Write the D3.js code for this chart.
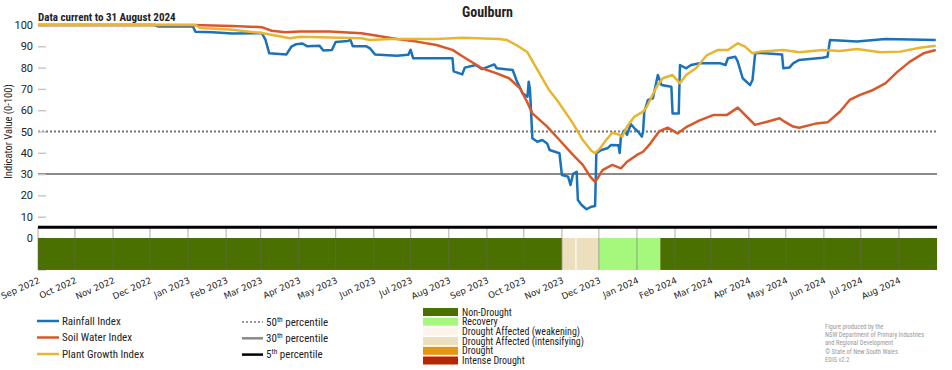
<!DOCTYPE html>
<html>
<head>
<meta charset="utf-8">
<script src="https://cdn.jsdelivr.net/npm/d3@7"></script>
<style>
  body { margin: 0; background: #fff; }
  svg { display: block; }
  text { font-family: "Liberation Sans Narrow", "Roboto Condensed", Roboto, sans-serif; fill: #222; }
</style>
</head>
<body>
<svg id="chart" width="952" height="370"></svg>
<script>
var title = "Goulburn";
var subtitle = "Data current to 31 August 2024";

var rainfallIndex = [
  ["2022-09-01",100],["2022-12-05",100],["2022-12-08",99.3],["2023-01-05",99.3],["2023-01-07",96.8],
  ["2023-01-21",96.6],["2023-02-06",96],["2023-03-02",96.2],["2023-03-05",93],["2023-03-08",86.7],
  ["2023-03-22",86.2],["2023-03-26",89.8],["2023-03-30",91],["2023-04-04",91.3],["2023-04-08",90],
  ["2023-04-18",90.2],["2023-04-21",88],["2023-04-28",88.3],["2023-05-01",92],["2023-05-11",92.5],
  ["2023-05-13",93],["2023-05-15",90],["2023-05-26",90],["2023-05-29",89],["2023-06-02",86.2],
  ["2023-06-20",85.6],["2023-06-29",86],["2023-07-01",88.3],["2023-07-03",84.4],["2023-08-04",84.4],
  ["2023-08-05",78.2],["2023-08-12",76.8],["2023-08-14",80],["2023-08-23",81.2],["2023-08-28",79.3],
  ["2023-09-07",81.5],["2023-09-09",79.7],["2023-09-22",78.9],["2023-09-25",74.2],["2023-09-30",67.9],
  ["2023-10-04",66.3],["2023-10-05",73.4],["2023-10-06",70],["2023-10-08",46.8],["2023-10-12",45.2],
  ["2023-10-16",46],["2023-10-20",44.4],["2023-10-22",41.3],["2023-10-30",39.8],["2023-11-01",29.6],
  ["2023-11-06",28.8],["2023-11-08",24.9],["2023-11-10",30],["2023-11-13",31.1],["2023-11-14",17.8],
  ["2023-11-17",15.5],["2023-11-21",13.5],["2023-11-25",14.7],["2023-11-28",15],["2023-11-29",39.8],
  ["2023-12-03",41.3],["2023-12-08",42.1],["2023-12-11",43.7],["2023-12-17",43.5],["2023-12-18",39.9],
  ["2023-12-19",47.6],["2023-12-22",50.7],["2023-12-24",48.4],["2023-12-27",53.5],["2023-12-30",51.5],
  ["2024-01-02",49.9],["2024-01-05",47.6],["2024-01-06",50],["2024-01-07",59.3],["2024-01-10",64.8],
  ["2024-01-14",65.6],["2024-01-18",76.5],["2024-01-21",71.8],["2024-01-29",71],["2024-01-30",58.5],
  ["2024-02-04",58.5],["2024-02-05",81.2],["2024-02-10",79.7],["2024-02-14",81.2],["2024-02-21",82],
  ["2024-03-09",82],["2024-03-13",81.2],["2024-03-15",84.4],["2024-03-21",85.1],["2024-03-23",82.8],
  ["2024-03-27",75],["2024-04-02",71.8],["2024-04-04",74.2],["2024-04-06",85.9],["2024-04-07",87],
  ["2024-04-14",86.7],["2024-04-28",86.2],["2024-04-29",79.7],["2024-05-04",80],["2024-05-07",82],
  ["2024-05-12",83.6],["2024-05-31",84.6],["2024-06-04",85.1],["2024-06-06",93],["2024-06-28",92.2],
  ["2024-07-21",93.4],["2024-08-31",93]
];

var soilWaterIndex = [
  ["2022-09-01",100],["2023-01-05",100],["2023-02-06",99.5],["2023-03-02",99],["2023-03-10",97.3],
  ["2023-03-21",96.6],["2023-04-02",97],["2023-04-26",96.9],["2023-05-22",96.1],["2023-06-05",94.8],
  ["2023-06-20",93.4],["2023-07-06",92.2],["2023-07-22",90.6],["2023-08-04",88.3],["2023-08-14",84.6],
  ["2023-08-28",79.7],["2023-09-09",77.3],["2023-09-19",75],["2023-09-28",70.3],["2023-10-04",63.5],
  ["2023-10-08",58.5],["2023-10-20",52.3],["2023-10-30",46],["2023-11-10",39],["2023-11-18",34.3],
  ["2023-11-24",28.8],["2023-11-28",26.4],["2023-11-30",28],["2023-12-04",31.9],["2023-12-12",34.3],
  ["2023-12-19",32.7],["2023-12-24",35.8],["2024-01-01",39],["2024-01-06",40.5],["2024-01-11",43.7],
  ["2024-01-19",50],["2024-01-26",51.8],["2024-02-03",49.1],["2024-02-10",52],["2024-02-21",55.2],
  ["2024-03-03",57.7],["2024-03-14",57.7],["2024-03-23",61.2],["2024-04-02",55.4],["2024-04-06",53.1],
  ["2024-04-16",54.6],["2024-04-26",56.2],["2024-04-30",54.6],["2024-05-07",52.3],["2024-05-12",51.8],
  ["2024-05-26",53.8],["2024-06-04",54.3],["2024-06-14",59.3],["2024-06-22",64.8],["2024-06-30",67.1],
  ["2024-07-11",69.5],["2024-07-21",72.6],["2024-07-31",78.1],["2024-08-10",82.8],["2024-08-21",86.7],
  ["2024-08-31",88.3]
];

var plantGrowthIndex = [
  ["2022-09-01",100],["2023-01-07",100],["2023-01-11",98.6],["2023-02-06",97.8],["2023-03-02",96.2],
  ["2023-03-25",93.8],["2023-04-02",94.5],["2023-05-22",93.8],["2023-05-29",93],["2023-06-14",93.4],
  ["2023-07-22",93.4],["2023-08-12",94],["2023-09-11",93.4],["2023-09-17",93],["2023-09-25",90.6],
  ["2023-10-04",87.2],["2023-10-12",79],["2023-10-21",70],["2023-10-29",64],["2023-11-10",53.8],
  ["2023-11-18",46],["2023-11-25",41],["2023-11-28",39.8],["2023-12-02",42.1],["2023-12-07",46],
  ["2023-12-12",49.4],["2023-12-18",48.4],["2023-12-20",47.6],["2023-12-24",52.3],["2023-12-30",57],
  ["2024-01-06",59.3],["2024-01-09",61.6],["2024-01-17",71],["2024-01-22",75],["2024-01-30",76.5],
  ["2024-02-05",72.6],["2024-02-10",76.5],["2024-02-18",79.7],["2024-02-27",85.9],["2024-03-07",88.3],
  ["2024-03-15",88.3],["2024-03-23",91.4],["2024-03-29",89.8],["2024-04-04",86.7],["2024-04-10",87.5],
  ["2024-04-29",88.3],["2024-05-12",87.2],["2024-05-31",88.3],["2024-06-14",87.8],["2024-06-28",88.7],
  ["2024-07-17",87.2],["2024-08-02",87.5],["2024-08-18",89.3],["2024-08-31",90.3]
];

var seriesNames = ["Rainfall Index", "Soil Water Index", "Plant Growth Index"];
var seriesColors = ["#1a72bb", "#d9582a", "#e8b530"];

var percentiles = [50, 30, 5];
var percentileLabels = ["50", "30", "5"];

var droughtCategories = ["Non-Drought", "Recovery", "Drought Affected (weakening)",
  "Drought Affected (intensifying)", "Drought", "Intense Drought"];
var droughtColors = ["#4a7000", "#a6f87d", "#fcf4ea", "#ebdfbd", "#e3960f", "#b52700"];

var droughtPeriods = [
  ["2022-09-01","2023-11-01","Non-Drought"],
  ["2023-11-01","2023-11-12","Drought Affected (intensifying)"],
  ["2023-11-12","2023-11-13","Drought Affected (weakening)"],
  ["2023-11-13","2023-12-01","Drought Affected (intensifying)"],
  ["2023-12-01","2024-01-20","Recovery"],
  ["2024-01-20","2024-09-01","Non-Drought"]
];

var yTicks = [0, 10, 20, 30, 40, 50, 60, 70, 80, 90, 100];
var credits = ["Figure produced by the", "NSW Department of Primary Industries",
  "and Regional Development", "\u00a9 State of New South Wales", "EDIS v2.2"];

var parseDate = d3.timeParse("%Y-%m-%d");

var svg = d3.select("#chart");

var x = d3.scaleTime()
    .domain([parseDate("2022-09-01"), parseDate("2024-09-01")])
    .range([38, 937]);

var y = d3.scaleLinear()
    .domain([0, 100])
    .range([238, 25]);

var catColor = d3.scaleOrdinal().domain(droughtCategories).range(droughtColors);

var line = d3.line()
    .x(function(d) { return x(parseDate(d[0])); })
    .y(function(d) { return y(d[1]); });

var months = d3.timeMonth.range(parseDate("2022-09-01"), parseDate("2024-09-01"));

// titles
svg.append("text")
    .attr("x", (x.range()[0] + x.range()[1]) / 2)
    .attr("y", 17)
    .attr("text-anchor", "middle")
    .attr("font-size", 14)
    .attr("font-weight", "bold")
    .text(title);

svg.append("text")
    .attr("x", 38)
    .attr("y", 21)
    .attr("font-size", 11)
    .attr("font-weight", "bold")
    .text(subtitle);

// percentile reference lines
svg.append("line")
    .attr("x1", x.range()[0]).attr("x2", x.range()[1])
    .attr("y1", y(percentiles[0])).attr("y2", y(percentiles[0]))
    .attr("stroke", "#777").attr("stroke-width", 2)
    .attr("stroke-dasharray", "2,2");

svg.append("line")
    .attr("x1", x.range()[0]).attr("x2", x.range()[1])
    .attr("y1", y(percentiles[1])).attr("y2", y(percentiles[1]))
    .attr("stroke", "#8a8a8a").attr("stroke-width", 2);

// y axis
var yAxis = svg.append("g")
    .attr("transform", "translate(38,0)")
    .call(d3.axisLeft(y).tickValues(yTicks).tickSize(-8).tickPadding(5));
yAxis.select(".domain").remove();
yAxis.selectAll("line").attr("stroke", "#c8c8c8").attr("stroke-width", 1.5);
yAxis.selectAll("text")
    .attr("font-size", 11)
    .attr("fill", "#333")
    .style("font-family", "Roboto, sans-serif");

svg.append("text")
    .attr("transform", "translate(12," + y(50) + ") rotate(-90)")
    .attr("text-anchor", "middle")
    .attr("font-size", 10.5)
    .attr("fill", "#444")
    .text("Indicator Value (0-100)");

// series
[rainfallIndex, soilWaterIndex, plantGrowthIndex].forEach(function(data, i) {
  svg.append("path")
      .datum(data)
      .attr("fill", "none")
      .attr("stroke", seriesColors[i])
      .attr("stroke-width", 2.5)
      .attr("stroke-linejoin", "round")
      .attr("d", line);
});

// drought band
svg.append("g").selectAll("rect")
    .data(droughtPeriods)
  .enter().append("rect")
    .attr("x", function(d) { return x(parseDate(d[0])); })
    .attr("width", function(d) { return x(parseDate(d[1])) - x(parseDate(d[0])); })
    .attr("y", y(0))
    .attr("height", y(-15) - y(0))
    .attr("fill", function(d) { return catColor(d[2]); });

// month gridlines through the band
svg.append("g").selectAll("line")
    .data(months)
  .enter().append("line")
    .attr("x1", function(d) { return x(d); })
    .attr("x2", function(d) { return x(d); })
    .attr("y1", y(percentiles[2]))
    .attr("y2", y(-15))
    .attr("stroke", "#666")
    .attr("stroke-opacity", 0.45)
    .attr("stroke-width", 1.2);

svg.append("g").selectAll("line")
    .data([-7, -15])
  .enter().append("line")
    .attr("x1", x.range()[0]).attr("x2", x.range()[0] + 8)
    .attr("y1", function(d) { return y(d); })
    .attr("y2", function(d) { return y(d); })
    .attr("stroke", "#555").attr("stroke-opacity", 0.5);

svg.append("line")
    .attr("x1", x.range()[1] - 8).attr("x2", x.range()[1])
    .attr("y1", y(-7)).attr("y2", y(-7))
    .attr("stroke", "#555").attr("stroke-opacity", 0.5);

// 5th percentile
svg.append("line")
    .attr("x1", x.range()[0]).attr("x2", x.range()[1])
    .attr("y1", y(percentiles[2])).attr("y2", y(percentiles[2]))
    .attr("stroke", "#000").attr("stroke-width", 3);

// x labels
svg.append("g").selectAll("text")
    .data(months)
  .enter().append("text")
    .attr("transform", function(d) { return "translate(" + (x(d) + 2.5) + ",282.5) rotate(-24)"; })
    .attr("text-anchor", "end")
    .attr("font-size", 8.7)
    .attr("fill", "#222")
    .style("font-family", "'DejaVu Sans', sans-serif")
    .text(d3.timeFormat("%b %Y"));

// legend: series
var lg1 = svg.append("g").selectAll("g")
    .data(seriesNames)
  .enter().append("g")
    .attr("transform", function(d, i) { return "translate(37," + (321 + i * 16.5) + ")"; });
lg1.append("line")
    .attr("x1", 0).attr("x2", 22)
    .attr("stroke", function(d, i) { return seriesColors[i]; })
    .attr("stroke-width", 2.5);
lg1.append("text")
    .attr("x", 25).attr("dy", "0.35em")
    .attr("font-size", 11)
    .text(function(d) { return d; });

// legend: percentiles
var lg2 = svg.append("g").selectAll("g")
    .data(percentileLabels)
  .enter().append("g")
    .attr("transform", function(d, i) { return "translate(242," + (322 + i * 16.3) + ")"; });
lg2.append("line")
    .attr("x1", 0).attr("x2", 21)
    .attr("stroke", function(d, i) { return ["#777", "#8a8a8a", "#000"][i]; })
    .attr("stroke-width", function(d, i) { return i == 0 ? 1.5 : 2.5; })
    .attr("stroke-dasharray", function(d, i) { return i == 0 ? "2,2" : null; });
var lt = lg2.append("text")
    .attr("x", 24).attr("dy", "0.35em")
    .attr("font-size", 11);
lt.append("tspan").text(function(d) { return d; });
lt.append("tspan").attr("dy", -4).attr("font-size", 7.5).text("th");
lt.append("tspan").attr("dy", 4).text(" percentile");

// legend: drought categories
var lg3 = svg.append("g").selectAll("g")
    .data(droughtCategories)
  .enter().append("g")
    .attr("transform", function(d, i) { return "translate(423," + (312 + i * 9.7) + ")"; });
lg3.append("rect")
    .attr("y", -4).attr("width", 35).attr("height", 8)
    .attr("fill", function(d) { return catColor(d); });
lg3.append("text")
    .attr("x", 39).attr("dy", "0.35em")
    .attr("font-size", 10)
    .text(function(d) { return d; });

// credits
svg.append("g").selectAll("text")
    .data(credits)
  .enter().append("text")
    .attr("x", 825)
    .attr("y", function(d, i) { return 329 + i * 8.2; })
    .attr("font-size", 6.5)
    .attr("fill", "#999")
    .style("fill", "#999")
    .text(function(d) { return d; });
</script>
</body>
</html>
